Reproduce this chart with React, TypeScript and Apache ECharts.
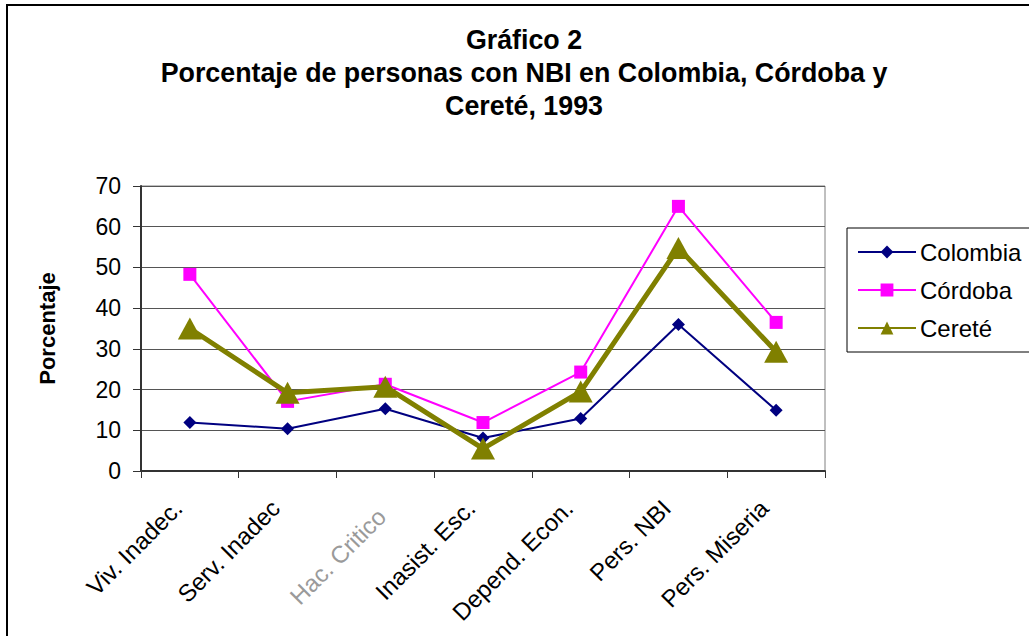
import React, { useEffect, useRef } from "react";
import * as echarts from "echarts";

const categories = [
  "Viv. Inadec.",
  "Serv. Inadec",
  "Hac. Critico",
  "Inasist. Esc.",
  "Depend. Econ.",
  "Pers. NBI",
  "Pers. Miseria",
];
const colombia = [11.9, 10.4, 15.3, 8.1, 12.9, 36.0, 14.9];
const cordoba = [48.3, 17.1, 21.3, 11.9, 24.3, 65.0, 36.5];
const cerete = [35.0, 19.2, 20.7, 5.5, 19.5, 54.8, 29.3];
const yTicks = { min: 0, max: 70, interval: 10 };
const titleText = "Gráfico 2\nPorcentaje de personas con NBI en Colombia, Córdoba y\nCereté, 1993";

const FONT = "'Liberation Sans', Arial, sans-serif";

export default function App() {
  const ref = useRef<HTMLDivElement>(null);
  useEffect(() => {
    if (!ref.current) return;
    const chart = echarts.init(ref.current, null, { renderer: "svg" });
    chart.setOption({
      animation: false,
      backgroundColor: "#ffffff",
      textStyle: { fontFamily: FONT },
      graphic: [
        {
          type: "rect",
          shape: { x: 7, y: 5, width: 1200, height: 800 },
          style: { fill: "none", stroke: "#000", lineWidth: 2 },
          z: 100,
          silent: true,
        },
        {
          type: "text",
          x: 524,
          y: 23,
          style: {
            text: titleText,
            fontFamily: FONT,
            fontSize: 26.8,
            fontWeight: "bold",
            fill: "#000",
            lineHeight: 33,
            align: "center",
            textAlign: "center",
            verticalAlign: "top",
          },
          silent: true,
        },
      ],
      legend: {
        orient: "vertical",
        left: 847,
        top: 228,
        padding: [12, 12, 12, 10],
        itemGap: 14,
        itemWidth: 58,
        itemHeight: 16,
        borderColor: "#000",
        borderWidth: 1,
        textStyle: { fontFamily: FONT, fontSize: 24, color: "#000", padding: [0, 0, 0, -1] },
        data: ["Colombia", "Córdoba", "Cereté"],
      },
      grid: {
        left: 141,
        right: 204,
        top: 186,
        bottom: 165,
        show: true,
        borderColor: "#808080",
        borderWidth: 1,
        backgroundColor: "transparent",
      },
      xAxis: {
        type: "category",
        boundaryGap: true,
        data: categories.map((c) =>
          c === "Hac. Critico" ? { value: c, textStyle: { color: "#9a9a9a" } } : c
        ),
        axisLine: { show: true, lineStyle: { color: "#333", width: 2 } },
        axisTick: { show: true, interval: 0, length: 7, lineStyle: { color: "#333", width: 1 } },
        axisLabel: {
          interval: 0,
          rotate: 45,
          margin: 38,
          verticalAlign: "bottom",
          padding: [0, 5, 0, 0],
          fontSize: 24,
          color: "#000",
          fontFamily: FONT,
        },
        splitLine: { show: false },
      },
      yAxis: {
        type: "value",
        min: yTicks.min,
        max: yTicks.max,
        interval: yTicks.interval,
        name: "Porcentaje",
        nameLocation: "middle",
        nameRotate: 90,
        nameGap: 83,
        nameTextStyle: { fontFamily: FONT, fontSize: 22, fontWeight: "bold", color: "#000" },
        axisLine: { show: true, lineStyle: { color: "#333", width: 2 } },
        axisTick: { show: true, length: 8, lineStyle: { color: "#333", width: 1 } },
        axisLabel: { margin: 20, fontSize: 23, color: "#000", fontFamily: FONT },
        splitLine: { show: true, lineStyle: { color: "#555", width: 1 } },
      },
      series: [
        {
          name: "Colombia",
          type: "line",
          data: colombia,
          symbol: "diamond",
          symbolSize: 13,
          color: "#000080",
          lineStyle: { color: "#000080", width: 2 },
          itemStyle: { color: "#000080" },
          z: 3,
        },
        {
          name: "Córdoba",
          type: "line",
          data: cordoba,
          symbol: "rect",
          symbolSize: 13,
          color: "#ff00ff",
          lineStyle: { color: "#ff00ff", width: 2 },
          itemStyle: { color: "#ff00ff" },
          z: 4,
        },
        {
          name: "Cereté",
          type: "line",
          data: cerete,
          symbol: "triangle",
          symbolSize: [24, 22],
          color: "#808000",
          lineStyle: { color: "#808000", width: 5 },
          itemStyle: { color: "#808000" },
          z: 5,
        },
      ],
    });
    return () => chart.dispose();
  }, []);
  return (
    <div
      ref={ref}
      style={{ position: "fixed", left: 0, top: 0, width: 1029, height: 636 }}
    />
  );
}
